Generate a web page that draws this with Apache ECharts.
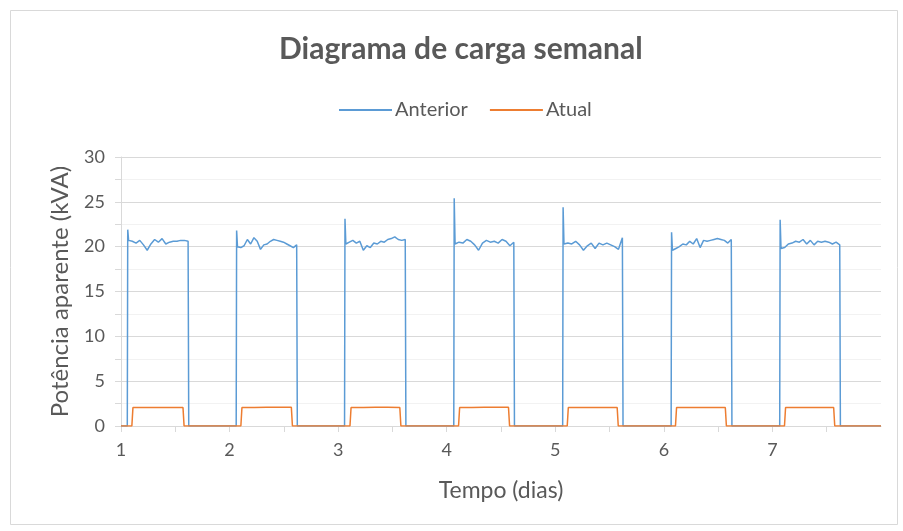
<!DOCTYPE html>
<html>
<head>
<meta charset="utf-8">
<script src="https://cdn.jsdelivr.net/npm/echarts@6/dist/echarts.min.js"></script>
<style>
html,body{margin:0;padding:0;background:#fff;}
#c{width:903px;height:531px;}
</style>
</head>
<body>
<div id="c"></div>
<script>
// ---- data ----
const xTickLabels = ['1','2','3','4','5','6','7'];
const anteriorOn   = [1.062, 2.065, 3.063, 4.069, 5.072, 6.071, 7.071];
const anteriorOff  = [1.620, 2.620, 3.620, 4.620, 5.620, 6.623, 7.622];
const anteriorSpike = [21.9, 21.8, 23.1, 25.4, 24.4, 21.6, 23.0];
const anteriorPlateau = [
  [20.7, 20.6, 20.4, 20.7, 20.2, 19.6, 20.3, 20.8, 20.5, 20.9, 20.3, 20.5, 20.6, 20.6, 20.7, 20.7, 20.6],
  [20.0, 19.9, 20.1, 20.8, 20.3, 21.0, 20.6, 19.7, 20.2, 20.3, 20.6, 20.8, 20.7, 20.6, 20.5, 20.3, 20.1, 19.9, 20.2],
  [20.3, 20.5, 20.7, 20.4, 20.6, 19.6, 20.1, 19.9, 20.4, 20.3, 20.6, 20.5, 20.8, 20.9, 21.1, 20.8, 20.7, 20.8],
  [20.3, 20.5, 20.4, 20.8, 20.6, 20.2, 19.6, 20.4, 20.7, 20.5, 20.6, 20.4, 20.8, 20.6, 20.1, 20.5],
  [20.3, 20.4, 20.3, 20.6, 20.2, 19.6, 20.1, 20.4, 19.8, 20.4, 20.2, 20.4, 20.2, 20.0, 19.7, 21.0],
  [19.6, 19.8, 20.0, 20.3, 20.2, 20.6, 20.3, 20.9, 19.9, 20.7, 20.6, 20.7, 20.8, 20.9, 20.8, 20.7, 20.4, 20.8],
  [19.8, 19.9, 20.3, 20.4, 20.6, 20.5, 20.8, 20.3, 20.7, 20.2, 20.6, 20.5, 20.6, 20.5, 20.3, 20.5, 20.2]
];
const atualOn  = [1.106, 2.110, 3.115, 4.115, 5.116, 6.113, 7.117];
const atualOff = [1.575, 2.573, 3.572, 4.573, 5.574, 6.570, 7.568];
const atualLevel = [
  [2.05, 2.05, 2.06, 2.06, 2.05],
  [2.06, 2.07, 2.10, 2.08, 2.08],
  [2.06, 2.07, 2.08, 2.08, 2.07],
  [2.06, 2.07, 2.08, 2.09, 2.08],
  [2.06, 2.06, 2.07, 2.07, 2.06],
  [2.06, 2.06, 2.07, 2.07, 2.06],
  [2.06, 2.06, 2.07, 2.07, 2.06]
];
const xMin = 1, xMax = 8;

// ---- build series points ----
function plateau(on, off, vals) {
  const pts = [];
  const n = vals.length;
  for (let i = 0; i < n; i++) {
    pts.push([on + (off - on) * i / (n - 1), vals[i]]);
  }
  return pts;
}
const anterior = [[xMin, 0]];
for (let d = 0; d < anteriorOn.length; d++) {
  anterior.push([anteriorOn[d] - 0.004, 0]);
  anterior.push([anteriorOn[d], anteriorSpike[d]]);
  plateau(anteriorOn[d] + 0.008, anteriorOff[d] - 0.002, anteriorPlateau[d]).forEach(p => anterior.push(p));
  anterior.push([anteriorOff[d] + 0.004, 0]);
}
anterior.push([xMax, 0]);

const atual = [[xMin, 0]];
for (let d = 0; d < atualOn.length; d++) {
  atual.push([atualOn[d] - 0.006, 0]);
  plateau(atualOn[d] + 0.004, atualOff[d] - 0.004, atualLevel[d]).forEach(p => atual.push(p));
  atual.push([atualOff[d] + 0.006, 0]);
}
atual.push([xMax, 0]);

const txt = '#595959';
const font = 'Lato, "Open Sans", sans-serif';
const chart = echarts.init(document.getElementById('c'));
chart.setOption({
  animation: false,
  backgroundColor: '#fff',
  graphic: [{
    type: 'rect', left: 8, top: 8, silent: true,
    shape: { width: 887, height: 514 },
    style: { fill: 'none', stroke: '#D9D9D9', lineWidth: 1 }
  }],
  title: {
    text: 'Diagrama de carga semanal',
    left: 274, top: 29,
    textStyle: { fontFamily: font, fontSize: 30, fontWeight: 'bold', color: txt }
  },
  legend: {
    top: 95, left: 334,
    itemWidth: 53, itemHeight: 2, itemGap: 22,
    icon: 'rect',
    textStyle: { fontFamily: font, fontSize: 20, color: txt, padding: [0, 0, 0, -2] },
    data: ['Anterior', 'Atual']
  },
  grid: { left: 121, right: 22, top: 157, bottom: 105, containLabel: false },
  xAxis: {
    type: 'value', min: xMin, max: xMax, interval: 0.5,
    name: 'Tempo (dias)', nameLocation: 'middle', nameGap: 53,
    nameTextStyle: { fontFamily: font, fontSize: 23, color: txt },
    axisLine: { show: true, lineStyle: { color: '#D9D9D9', width: 1 } },
    axisTick: { show: true, length: 6, lineStyle: { color: '#D9D9D9' } },
    splitLine: { show: false },
    axisLabel: {
      fontFamily: font, fontSize: 18, color: txt, margin: 15,
      showMaxLabel: false,
      formatter: v => {
        const i = Math.round(v) - 1;
        return (Math.abs(v - Math.round(v)) < 1e-6 && i >= 0 && i < xTickLabels.length) ? xTickLabels[i] : '';
      }
    }
  },
  yAxis: {
    type: 'value', min: 0, max: 30, interval: 5,
    name: 'Potência aparente (kVA)', nameLocation: 'middle', nameGap: 49, nameRotate: 90,
    nameTextStyle: { fontFamily: font, fontSize: 24, color: txt },
    axisLine: { show: true, lineStyle: { color: '#D9D9D9', width: 1 } },
    axisTick: { show: true, length: 6, lineStyle: { color: '#D9D9D9' } },
    minorTick: { show: true, splitNumber: 2, length: 6, lineStyle: { color: '#D9D9D9' } },
    splitLine: { show: true, lineStyle: { color: '#D9D9D9', width: 1 } },
    minorSplitLine: { show: true, lineStyle: { color: '#F2F2F2', width: 1 } },
    axisLabel: { fontFamily: font, fontSize: 18, color: txt, margin: 16 }
  },
  series: [
    {
      name: 'Anterior', type: 'line', data: anterior, showSymbol: false, symbol: 'none',
      lineStyle: { color: '#5B9BD5', width: 1.5 }, itemStyle: { color: '#5B9BD5' }
    },
    {
      name: 'Atual', type: 'line', data: atual, showSymbol: false, symbol: 'none',
      lineStyle: { color: '#ED7D31', width: 1.5 }, itemStyle: { color: '#ED7D31' }
    }
  ]
});
</script>
</body>
</html>
